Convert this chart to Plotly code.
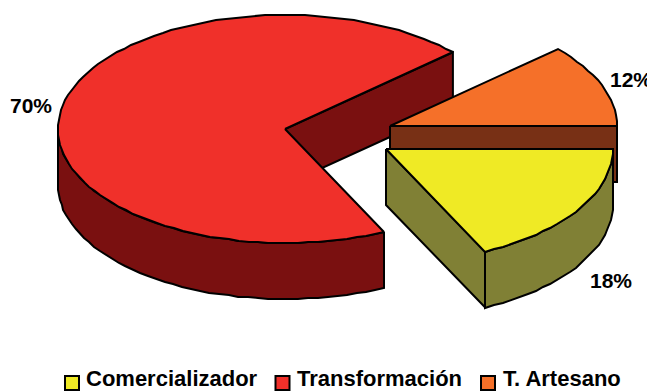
import numpy as np
import plotly.graph_objects as go

# data
labels = ["Comercializador", "Transformación", "T. Artesano"]
shares = [17.8, 70.45, 11.75]

# styling per slice
top_colors = ["#EFEA25", "#F0302A", "#F57029"]
side_colors = ["#808035", "#7A1010", "#783015"]
centers = [(386, 149), (285, 129), (390, 126)]
label_pos = [(611, 283), (31, 108), (631, 82)]
key_x = [72, 282.5, 488]
key_text_x = [86, 297, 503]
KEY_Y = 383
KEY_TEXT_Y = 380.5
draw_order = [1, 2, 0]

RX, RY, DEPTH = 227, 114, 56
LINE = dict(color="black", width=2)
BOLD = dict(family="Liberation Sans", color="black", weight="bold")

fig = go.Figure()


def poly(xs, ys, color):
    fig.add_trace(go.Scatter(x=list(xs) + [xs[0]], y=list(ys) + [ys[0]], mode="lines", fill="toself",
                             fillcolor=color, line=LINE))


def arc(c, a0, a1):
    n = max(int(abs(a1 - a0) / 2.5), 2)
    t = np.radians(np.linspace(a0, a1, n + 1))
    # coarse rounding gives the stepped outline of the original
    return np.round(c[0] + RX * np.cos(t)), np.round(c[1] + RY * np.sin(t))


# slice angles clockwise from east
edges = np.cumsum([0] + shares) / sum(shares) * 360

for i in draw_order:
    c = centers[i]
    a0, a1 = edges[i], edges[i + 1]
    tip = (c[0] + RX * np.cos(np.radians(a1)), c[1] + RY * np.sin(np.radians(a1)))
    # wall along the closing edge
    poly([c[0], tip[0], tip[0], c[0]], [c[1], tip[1], tip[1] + DEPTH, c[1] + DEPTH], side_colors[i])
    # outer wall, only the front half shows
    lo, hi = max(a0, 0), min(a1, 180)
    if hi > lo:
        ax, ay = arc(c, lo, hi)
        poly(list(ax) + list(ax[::-1]), list(ay) + list(ay[::-1] + DEPTH), side_colors[i])
    # top face
    ax, ay = arc(c, a0, a1)
    poly([c[0]] + list(ax), [c[1]] + list(ay), top_colors[i])

# percentage labels
fig.add_trace(go.Scatter(x=[p[0] for p in label_pos], y=[p[1] for p in label_pos], mode="text",
                         text=[f"{round(s)}%" for s in shares], textfont=dict(size=21, **BOLD)))

# key at the bottom, placed by hand because a plotly legend this low shrinks the plot area
fig.add_trace(go.Scatter(x=key_x, y=[KEY_Y] * 3, mode="markers",
                         marker=dict(symbol="square", size=14, color=top_colors, line=dict(color="black", width=2))))
fig.add_trace(go.Scatter(x=key_text_x, y=[KEY_TEXT_Y] * 3, mode="text", text=labels, textposition="middle right",
                         textfont=dict(size=22, **BOLD)))

# the page has an 8px body margin, so the axes start at 8 to keep one unit = one pixel of the window
fig.update_layout(
    width=647, height=384, margin=dict(l=0, r=0, t=0, b=0),
    paper_bgcolor="white", plot_bgcolor="white", showlegend=False, hovermode=False,
    xaxis=dict(range=[8, 655], visible=False, fixedrange=True),
    yaxis=dict(range=[392, 8], visible=False, fixedrange=True),
)

fig.write_html("out.html")
